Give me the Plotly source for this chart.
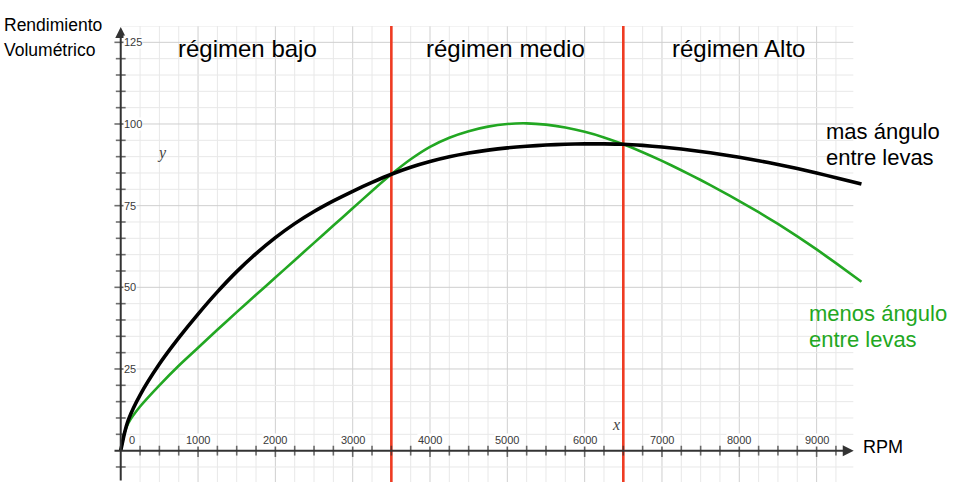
import numpy as np
import plotly.graph_objects as go

# ---- data ----
rpm = [0, 50, 100, 250, 500, 750, 1000, 1250, 1500, 1750, 2000, 2250, 2500, 2750,
       3000, 3250, 3500, 3750, 4000, 4250, 4500, 4750, 5000, 5250, 5500, 5750,
       6000, 6250, 6500, 6750, 7000, 7250, 7500, 7750, 8000, 8250, 8500, 8750,
       9000, 9250, 9580]
mas_angulo = [0, 5.5, 9.5, 17.0, 26.5, 34.5, 41.8, 48.6, 54.8, 60.3, 65.2, 69.5, 73.2, 76.45,
              79.4, 82.1, 84.6, 86.75, 88.5, 89.95, 91.1, 92.0, 92.7, 93.2, 93.55, 93.8,
              93.9, 93.9, 93.8, 93.45, 92.95, 92.35, 91.6, 90.75, 89.8, 88.75, 87.6, 86.35,
              85.0, 83.55, 81.6]
menos_angulo = [0, 5.5, 8.5, 13.5, 20.0, 26.0, 31.5, 37.0, 42.4, 47.7, 53.0, 58.3, 63.6, 68.9,
                74.2, 79.5, 84.6, 89.2, 93.0, 95.8, 97.8, 99.2, 100.0, 100.2, 99.8, 98.9,
                97.6, 95.9, 93.8, 91.35, 88.7, 85.85, 82.85, 79.7, 76.4, 73.0, 69.4, 65.6,
                61.6, 57.4, 51.7]
region_bounds = [3500, 6500]
region_names = ["régimen bajo", "régimen medio", "régimen Alto"]
region_label_x = [1640, 4970, 7990]
x_tick_vals = [0, 1000, 2000, 3000, 4000, 5000, 6000, 7000, 8000, 9000]
x_tick_labels = ["0", "1000", "2000", "3000", "4000", "5000", "6000", "7000", "8000", "9000"]
y_tick_vals = [25, 50, 75, 100, 125]
y_tick_labels = ["25", "50", "75", "100", "125"]

X_MIN, X_MAX = -100, 9600
Y_MIN, Y_MAX = -9.6, 130
GRID_X_END = 9475

BLACK = "#000000"
GREEN = "#22a722"
RED = "#ef3b22"
AXIS = "#333333"
FONT = "Liberation Sans, Arial, Helvetica, sans-serif"

ML, MR, MT, MB = 113, 103, 26, 10
W, H = 966, 492
PW, PH = W - ML - MR, H - MT - MB


def paper_x(px):
    return (px - ML) / PW


def paper_y(py):
    return 1 - (py - MT) / PH


fig = go.Figure()

# grid
shapes = []
for gx in np.arange(250, GRID_X_END, 250):
    major = (gx % 1000 == 0)
    shapes.append(dict(type="line", xref="x", yref="y", x0=gx, x1=gx, y0=Y_MIN, y1=Y_MAX,
                       line=dict(color="#cfcfcf" if major else "#e8e8e8", width=1), layer="below"))
for gy in np.arange(-5, Y_MAX + 0.1, 5):
    if gy == 0:
        continue
    major = (gy % 25 == 0)
    shapes.append(dict(type="line", xref="x", yref="y", x0=0, x1=GRID_X_END, y0=gy, y1=gy,
                       line=dict(color="#cfcfcf" if major else "#e8e8e8", width=1), layer="below"))

# region boundaries (red lines)
for b in region_bounds:
    fig.add_trace(go.Scatter(x=[b, b], y=[Y_MIN, Y_MAX], mode="lines",
                             line=dict(color=RED, width=2.6), hoverinfo="skip", showlegend=False))

# axis tick marks
xt = np.arange(250, GRID_X_END, 250)
fig.add_trace(go.Scatter(x=xt, y=np.zeros_like(xt), mode="markers",
                         marker=dict(symbol="line-ns", size=[9 if v % 1000 == 0 else 7 for v in xt],
                                     line=dict(color=AXIS, width=1.6)),
                         hoverinfo="skip", showlegend=False))
yt = np.array([v for v in np.arange(-5, 128, 5) if v != 0])
fig.add_trace(go.Scatter(x=np.zeros_like(yt), y=yt, mode="markers",
                         marker=dict(symbol="line-ew", size=[9 if v % 25 == 0 else 7 for v in yt],
                                     line=dict(color=AXIS, width=1.6)),
                         hoverinfo="skip", showlegend=False))

# curves
fig.add_trace(go.Scatter(x=rpm, y=menos_angulo, mode="lines",
                         line=dict(color=GREEN, width=2.6, shape="spline", smoothing=0.6),
                         name="menos ángulo entre levas", showlegend=False))
fig.add_trace(go.Scatter(x=rpm, y=mas_angulo, mode="lines",
                         line=dict(color=BLACK, width=3.6, shape="spline", smoothing=0.6),
                         name="mas ángulo entre levas", showlegend=False))

ann = []
# axes arrows
ann.append(dict(x=9480, y=0, ax=X_MIN, ay=0, xref="x", yref="y", axref="x", ayref="y", text="",
                showarrow=True, arrowhead=2, arrowsize=1.1, arrowwidth=2, arrowcolor=AXIS, standoff=0))
ann.append(dict(x=0, y=129.7, ax=0, ay=Y_MIN, xref="x", yref="y", axref="x", ayref="y", text="",
                showarrow=True, arrowhead=2, arrowsize=1.1, arrowwidth=2, arrowcolor=AXIS, standoff=0))

# tick labels
for v, t in zip(x_tick_vals, x_tick_labels):
    ann.append(dict(x=v, y=0, xref="x", yref="y", text=t, showarrow=False,
                    xanchor="center", yanchor="middle", yshift=11, xshift=(11 if v == 0 else 0),
                    bgcolor="white" if v != 0 else "rgba(0,0,0,0)", borderpad=0,
                    font=dict(family=FONT, size=11, color="#3a3a3a")))
for v, t in zip(y_tick_vals, y_tick_labels):
    ann.append(dict(x=0, y=v, xref="x", yref="y", text=t, showarrow=False,
                    xanchor="left", yanchor="middle", xshift=2, bgcolor="white", borderpad=0,
                    font=dict(family=FONT, size=11, color="#3a3a3a")))

# region names
for n, x in zip(region_names, region_label_x):
    ann.append(dict(x=x, y=123.2, xref="x", yref="y", text=n, showarrow=False,
                    xanchor="center", yanchor="middle", font=dict(family=FONT, size=24, color="black")))

# curve labels
ann.append(dict(x=9090, y=97.6, xref="x", yref="y", text="mas ángulo", showarrow=False,
                xanchor="left", yanchor="middle", font=dict(family=FONT, size=22, color="black")))
ann.append(dict(x=9090, y=89.7, xref="x", yref="y", text="entre levas", showarrow=False,
                xanchor="left", yanchor="middle", font=dict(family=FONT, size=22, color="black")))
ann.append(dict(x=8880, y=42.0, xref="x", yref="y", text="menos ángulo", showarrow=False,
                xanchor="left", yanchor="middle", font=dict(family=FONT, size=22, color=GREEN)))
ann.append(dict(x=8880, y=33.9, xref="x", yref="y", text="entre levas", showarrow=False,
                xanchor="left", yanchor="middle", font=dict(family=FONT, size=22, color=GREEN)))

# axis titles
ann.append(dict(x=9570, y=1.1, xref="x", yref="y", text="RPM", showarrow=False,
                xanchor="left", yanchor="middle", font=dict(family=FONT, size=18, color="black")))
ann.append(dict(x=paper_x(1.5), y=paper_y(25), xref="paper", yref="paper", text="Rendimiento",
                showarrow=False, xanchor="left", yanchor="middle",
                font=dict(family=FONT, size=17.5, color="black")))
ann.append(dict(x=paper_x(1.5), y=paper_y(50), xref="paper", yref="paper", text="Volumétrico",
                showarrow=False, xanchor="left", yanchor="middle",
                font=dict(family=FONT, size=17.5, color="black")))

# italic x / y markers
ann.append(dict(x=537, y=91, xref="x", yref="y", text="<i>y</i>", showarrow=False,
                font=dict(family="Liberation Serif, Times New Roman, serif", size=16, color="#444")))
ann.append(dict(x=6410, y=7.9, xref="x", yref="y", text="<i>x</i>", showarrow=False,
                font=dict(family="Liberation Serif, Times New Roman, serif", size=16, color="#444")))

fig.update_layout(
    width=W, height=H,
    margin=dict(l=ML, r=MR, t=MT, b=MB, pad=0),
    plot_bgcolor="white", paper_bgcolor="white",
    shapes=shapes, annotations=ann, showlegend=False,
    xaxis=dict(range=[X_MIN, X_MAX], showgrid=False, zeroline=False, showticklabels=False,
               showline=False, ticks=""),
    yaxis=dict(range=[Y_MIN, Y_MAX], showgrid=False, zeroline=False, showticklabels=False,
               showline=False, ticks=""),
)

fig.write_html("out.html", config={"displayModeBar": False},
               post_script="document.body.style.margin='0px';")
